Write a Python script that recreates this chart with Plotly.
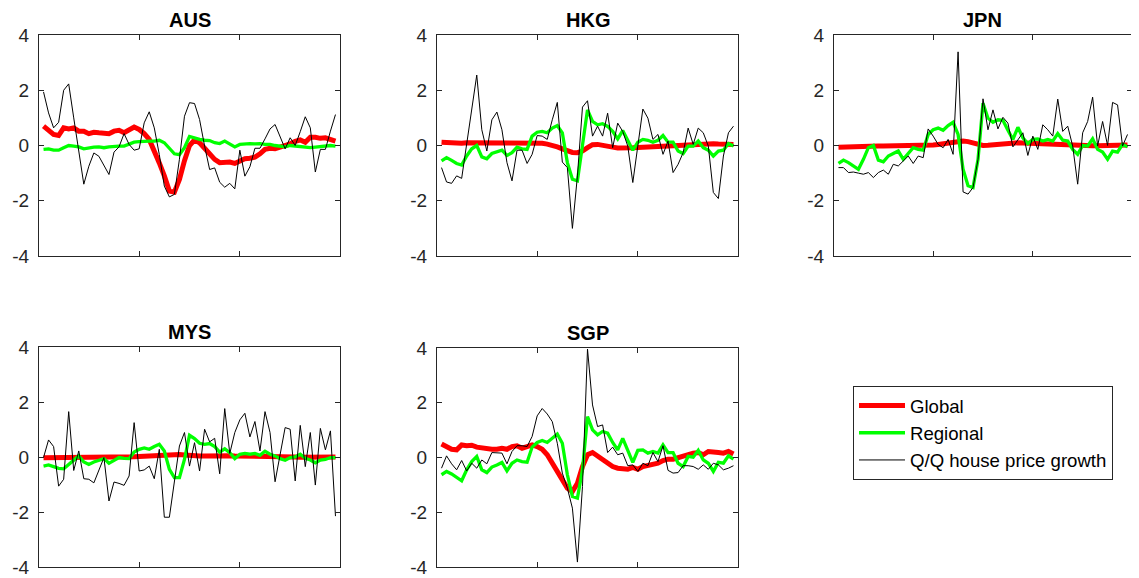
import plotly.graph_objects as go

countries = ["AUS", "HKG", "JPN", "MYS", "SGP"]

aus_global = [0.7, 0.54, 0.4, 0.36, 0.64, 0.6, 0.64, 0.52, 0.52, 0.43, 0.48, 0.46, 0.43, 0.43, 0.52, 0.55,
              0.46, 0.55, 0.67, 0.58, 0.43, 0.22, -0.27, -0.63, -1.1, -1.65, -1.69, -1.23, -0.55,
              0.0, 0.2, 0.1, -0.1, -0.3, -0.5, -0.62, -0.62, -0.6, -0.65, -0.57, -0.48, -0.46, -0.42,
              -0.3, -0.14, -0.1, -0.12, -0.06, -0.02, 0.06, 0.15, 0.2, 0.12, 0.3, 0.3, 0.26, 0.28, 0.2, 0.16]
aus_regional = [-0.14, -0.12, -0.17, -0.17, -0.08, 0.0, -0.02, -0.05, -0.12, -0.08, -0.06, -0.05, -0.08,
                -0.05, -0.02, -0.02, -0.02, 0.06, 0.12, 0.14, 0.16, 0.16, 0.16, 0.19, 0.1, -0.12, -0.3,
                -0.33, -0.08, 0.33, 0.26, 0.22, 0.19, 0.18, 0.1, 0.07, 0.16, 0.07, -0.05, 0.04, 0.07, 0.07,
                0.06, 0.07, 0.04, 0.04, 0.0, -0.02, -0.05, 0.0, -0.02, -0.05, -0.05, -0.08, -0.06, -0.05,
                -0.02, 0.0, -0.02]
aus_hpg = [1.94, 1.18, 0.64, 0.84, 2.0, 2.23, 1.0, -0.2, -1.4, -0.75, -0.27, -0.39, -0.72, -1.05, -0.24,
           -0.05, 0.43, 0.04, -0.17, -0.12, 0.82, 1.22, 0.64, -0.33, -1.47, -1.86, -1.77, -0.5, 1.06,
           1.55, 1.52, 0.94, -0.02, -0.87, -0.81, -1.33, -1.51, -1.37, -1.57, -0.17, -1.11, -0.77, -0.1,
           -0.1, 0.24, 0.6, 0.76, 0.3, -0.12, 0.28, 0.0, 0.5, 1.04, 0.64, -0.96, -0.14, -0.14, 0.52, 1.12]

hkg_global = [0.12, 0.1, 0.08, 0.07, 0.08, 0.1, 0.1, 0.1, 0.09, 0.09, 0.09, 0.09, 0.09, 0.1, 0.1, 0.1, 0.1,
              0.11, 0.1, 0.1, 0.08, 0.05, 0.01, -0.05, -0.12, -0.2, -0.25, -0.26, -0.2, -0.08, 0.03, 0.04,
              0.02, -0.02, -0.06, -0.09, -0.1, -0.1, -0.08, -0.07, -0.06, -0.05, -0.04, -0.03, -0.02, 0.0,
              0.01, 0.02, 0.03, 0.04, 0.05, 0.05, 0.06, 0.06, 0.06, 0.05, 0.04, 0.05, 0.04]
hkg_regional = [-0.56, -0.44, -0.54, -0.65, -0.71, -0.38, -0.12, 0.0, -0.41, -0.48, -0.29, -0.24, -0.17,
                -0.36, -0.26, -0.06, -0.12, -0.14, 0.34, 0.48, 0.51, 0.46, 0.63, 0.72, 0.46, -0.62, -1.22,
                -1.28, -0.02, 1.29, 0.87, 0.75, 0.79, 0.69, 0.51, 0.24, 0.54, 0.16, -0.17, 0.12, 0.22, 0.19,
                0.12, 0.19, 0.36, 0.12, 0.12, -0.2, -0.29, -0.02, -0.02, 0.16, -0.08, -0.17, -0.38, -0.2,
                -0.17, 0.07, -0.02]
hkg_hpg = [-0.8, -1.32, -1.37, -1.1, -1.19, 0.0, 1.3, 2.55, 0.57, -0.2, 0.93, 1.21, 0.57, -0.62, -1.28,
           -0.17, -0.17, -0.65, -0.32, 0.36, 0.34, 0.22, 0.93, 1.56, -0.6, -0.8, -3.0, -1.1, 1.39, 1.62,
           0.34, 0.7, 0.34, 1.17, -0.08, 0.81, 0.51, -0.02, -1.34, -0.02, 1.32, 0.99, 0.22, 0.4, -0.32,
           0.16, -0.98, -0.68, -0.26, 0.63, 0.04, 0.63, 0.46, -0.02, -1.7, -1.92, -0.38, 0.46, 0.7]

jpn_global = [-0.06, -0.05, -0.05, -0.04, -0.04, -0.03, -0.03, -0.02, -0.02, -0.02, -0.02, -0.02, -0.02,
              -0.01, -0.01, -0.01, 0.0, 0.0, 0.0, 0.02, 0.04, 0.07, 0.1, 0.14, 0.16, 0.16, 0.14, 0.08, 0.02,
              0.0, 0.01, 0.03, 0.05, 0.07, 0.08, 0.09, 0.1, 0.09, 0.08, 0.07, 0.06, 0.05, 0.04, 0.04, 0.03,
              0.03, 0.02, 0.02, 0.01, 0.0, -0.01, -0.01, -0.01, 0.0, 0.0, 0.0, 0.01, 0.02, 0.02]
jpn_regional = [-0.65, -0.53, -0.62, -0.74, -0.86, -0.5, -0.08, 0.0, -0.53, -0.59, -0.38, -0.29, -0.2,
                -0.5, -0.29, -0.08, -0.14, -0.17, 0.4, 0.57, 0.63, 0.55, 0.72, 0.84, 0.4, -0.86, -1.46,
                -1.52, -0.5, 1.53, 0.99, 0.84, 0.93, 0.91, 0.55, 0.22, 0.66, 0.28, 0.07, 0.22, 0.24, 0.16,
                0.22, 0.16, 0.43, 0.19, 0.16, -0.14, -0.32, 0.0, -0.02, 0.24, -0.14, -0.24, -0.5, -0.2,
                -0.24, 0.04, -0.05]
jpn_hpg = [-0.8, -0.8, -0.98, -0.96, -1.0, -1.04, -0.98, -1.16, -0.98, -0.89, -1.04, -0.68, -0.74, -0.56,
           -0.38, -0.65, -0.38, -0.44, 0.6, 0.34, 0.04, -0.08, 0.22, -0.32, 3.39, -1.68, -1.76, -1.52,
           -0.5, 1.69, 0.57, 1.29, 0.6, 1.02, 0.81, -0.05, 0.22, 0.46, -0.36, 0.34, -0.14, 0.75, 0.57,
           0.34, 1.68, 0.51, 0.7, -0.02, -1.4, 0.46, 0.87, 1.75, -0.02, 0.87, 0.0, 1.56, 1.47, -0.02, 0.4]

mys_global = [-0.03, -0.03, -0.03, -0.03, -0.03, -0.02, -0.02, -0.02, -0.02, -0.02, -0.01, -0.01, -0.01,
              -0.01, 0.0, 0.0, 0.0, 0.0, 0.01, 0.02, 0.03, 0.05, 0.07, 0.09, 0.1, 0.1, 0.1, 0.09, 0.07,
              0.05, 0.04, 0.04, 0.04, 0.05, 0.05, 0.05, 0.05, 0.05, 0.04, 0.04, 0.04, 0.04, 0.04, 0.04,
              0.04, 0.04, 0.03, 0.02, 0.02, 0.01, 0.0, -0.01, -0.01, -0.01, -0.01, -0.01, 0.0, 0.0, 0.0]
mys_regional = [-0.33, -0.29, -0.35, -0.41, -0.43, -0.27, -0.09, 0.04, -0.18, -0.27, -0.18, -0.11, -0.06,
                -0.23, -0.11, -0.02, -0.05, -0.06, 0.18, 0.28, 0.33, 0.28, 0.38, 0.46, 0.22, -0.45, -0.75,
                -0.75, -0.09, 0.79, 0.67, 0.5, 0.46, 0.49, 0.38, 0.18, 0.3, 0.16, -0.06, 0.1, 0.13, 0.1,
                0.13, 0.06, 0.21, 0.1, 0.04, -0.06, -0.12, -0.02, 0.0, 0.1, -0.05, -0.11, -0.21, -0.11,
                -0.09, -0.02, -0.02]
mys_hpg = [-0.02, 0.62, 0.38, -1.06, -0.81, 1.65, -0.49, 0.22, -0.79, -0.81, -0.94, -0.49, -0.02, -1.6,
           -0.91, -0.96, -1.03, -0.69, 1.25, -0.51, -0.47, -0.33, -0.79, 0.28, -2.19, -2.19, -0.94, 0.4,
           0.89, -0.33, 0.52, -0.51, 1.01, 0.55, 0.68, -0.61, 1.76, 0.13, 0.89, 1.35, 1.59, 0.73, 1.29,
           0.22, 1.65, 0.89, -0.9, 0.04, 1.07, 1.01, -0.87, 1.15, -0.35, 0.89, -1.02, 1.04, 0.26, 0.95, -2.15]

sgp_global = [0.49, 0.4, 0.3, 0.28, 0.46, 0.43, 0.45, 0.38, 0.34, 0.34, 0.3, 0.3, 0.34, 0.3, 0.4, 0.43,
              0.34, 0.4, 0.46, 0.4, 0.3, 0.1, -0.21, -0.57, -0.87, -1.12, -1.24, -0.94, -0.33, 0.1, 0.18,
              0.04, -0.09, -0.23, -0.33, -0.39, -0.43, -0.43, -0.36, -0.43, -0.33, -0.3, -0.27, -0.21,
              -0.11, -0.06, -0.06, 0.0, 0.04, 0.13, 0.16, 0.18, 0.1, 0.22, 0.22, 0.18, 0.16, 0.22, 0.13]
sgp_regional = [-0.63, -0.51, -0.6, -0.72, -0.85, -0.45, -0.15, 0.04, -0.45, -0.55, -0.35, -0.27, -0.18,
                -0.49, -0.21, -0.09, -0.15, -0.17, 0.38, 0.55, 0.62, 0.55, 0.7, 0.86, 0.52, -0.63, -1.42,
                -1.48, -0.45, 1.49, 1.01, 0.83, 0.95, 0.89, 0.55, 0.28, 0.7, 0.28, -0.18, 0.26, 0.28, 0.16,
                0.22, 0.16, 0.46, 0.18, 0.18, -0.21, -0.33, 0.04, 0.01, 0.26, -0.09, -0.21, -0.51, -0.18,
                -0.21, 0.06, -0.06]
sgp_hpg = [-0.39, 0.06, -0.23, -0.45, -0.11, -0.49, -0.21, -0.39, -0.09, -0.23, 0.18, 0.18, 0.16, -0.23,
           0.22, 0.43, 0.43, 0.4, 0.77, 1.52, 1.79, 1.59, 1.31, 0.52, -0.57, -1.12, -1.85, -3.82, -1.06,
           3.96, 1.92, 1.13, 1.19, 0.18, 0.38, 0.1, 0.16, -0.3, -0.27, -0.51, -0.21, -0.3, 0.18, -0.15,
           0.43, -0.47, -0.57, -0.55, -0.3, -0.3, -0.33, -0.43, -0.27, -0.43, -0.21, -0.27, -0.45, -0.39, -0.3]

y_ticks = [-4, -2, 0, 2, 4]
series_names = ["Global", "Regional", "Q/Q house price growth"]

data = {
    "AUS": (aus_global, aus_regional, aus_hpg),
    "HKG": (hkg_global, hkg_regional, hkg_hpg),
    "JPN": (jpn_global, jpn_regional, jpn_hpg),
    "MYS": (mys_global, mys_regional, mys_hpg),
    "SGP": (sgp_global, sgp_regional, sgp_hpg),
}

# page has an 8px body margin; the figure is sized to fill the rest of the window
OFF = 8
W, H = 1139 - OFF, 578 - OFF
# page-pixel boxes (left, right, top, bottom)
boxes = {
    "AUS": (39, 340, 35, 256),
    "HKG": (437, 738, 35, 256),
    "JPN": (834, 1132, 35, 256),
    "MYS": (39, 340, 347, 567),
    "SGP": (437, 738, 348, 567),
}


def px(x):
    return (x - OFF) / W


def py(y):
    return 1 - (y - OFF) / H


AX = "#262626"
FONT = "Liberation Sans, Arial, sans-serif"
styles = [dict(color="#FF0000", width=5), dict(color="#00FF00", width=3.3), dict(color="black", width=1)]

fig = go.Figure()
layout = dict(
    template="none",
    width=W, height=H, margin=dict(l=0, r=0, t=0, b=0, autoexpand=False),
    paper_bgcolor="white", plot_bgcolor="white",
    font=dict(family=FONT, size=17, color=AX),
    showlegend=True,
    legend=dict(x=px(853), y=py(386), xanchor="left", yanchor="top",
                bordercolor=AX, borderwidth=1, bgcolor="white",
                font=dict(family=FONT, size=18.6, color="black"),
                itemwidth=46, tracegroupgap=0),
    annotations=[],
)

for k, c in enumerate(countries):
    n = k + 1
    xa = "x" if n == 1 else f"x{n}"
    ya = "y" if n == 1 else f"y{n}"
    L, R, T, B = boxes[c]
    vals = data[c]
    npts = len(vals[2])
    xs = list(range(npts))
    for s in range(3):
        fig.add_trace(go.Scatter(
            x=xs, y=vals[s], mode="lines", name=series_names[s],
            line=styles[s], xaxis=xa, yaxis=ya,
            showlegend=(k == 0), legendrank=s,
            hoverinfo="skip"))
    axcommon = dict(showline=True, linecolor=AX, linewidth=1.3, mirror="allticks",
                    ticks="inside", ticklen=5, tickwidth=1.3, tickcolor=AX,
                    showgrid=False, zeroline=False, automargin=False)
    layout["xaxis" if n == 1 else f"xaxis{n}"] = dict(
        domain=[px(L), px(R)], range=[-0.9, npts - 0.1], anchor=ya,
        tickvals=[19, 39], showticklabels=False, **axcommon)
    layout["yaxis" if n == 1 else f"yaxis{n}"] = dict(
        domain=[py(B), py(T)], range=[-4, 4], anchor=xa,
        tickvals=y_ticks, ticktext=[str(v) for v in y_ticks],
        tickfont=dict(family=FONT, size=19, color=AX), ticklabelstandoff=5,
        **axcommon)
    layout["annotations"].append(dict(
        text=f"<b>{c}</b>", x=px((L + R) / 2), y=py(T - 2),
        xref="paper", yref="paper", xanchor="center", yanchor="bottom",
        showarrow=False, font=dict(family=FONT, size=20, color="black")))

fig.update_layout(**layout)
fig.write_html("out.html")
